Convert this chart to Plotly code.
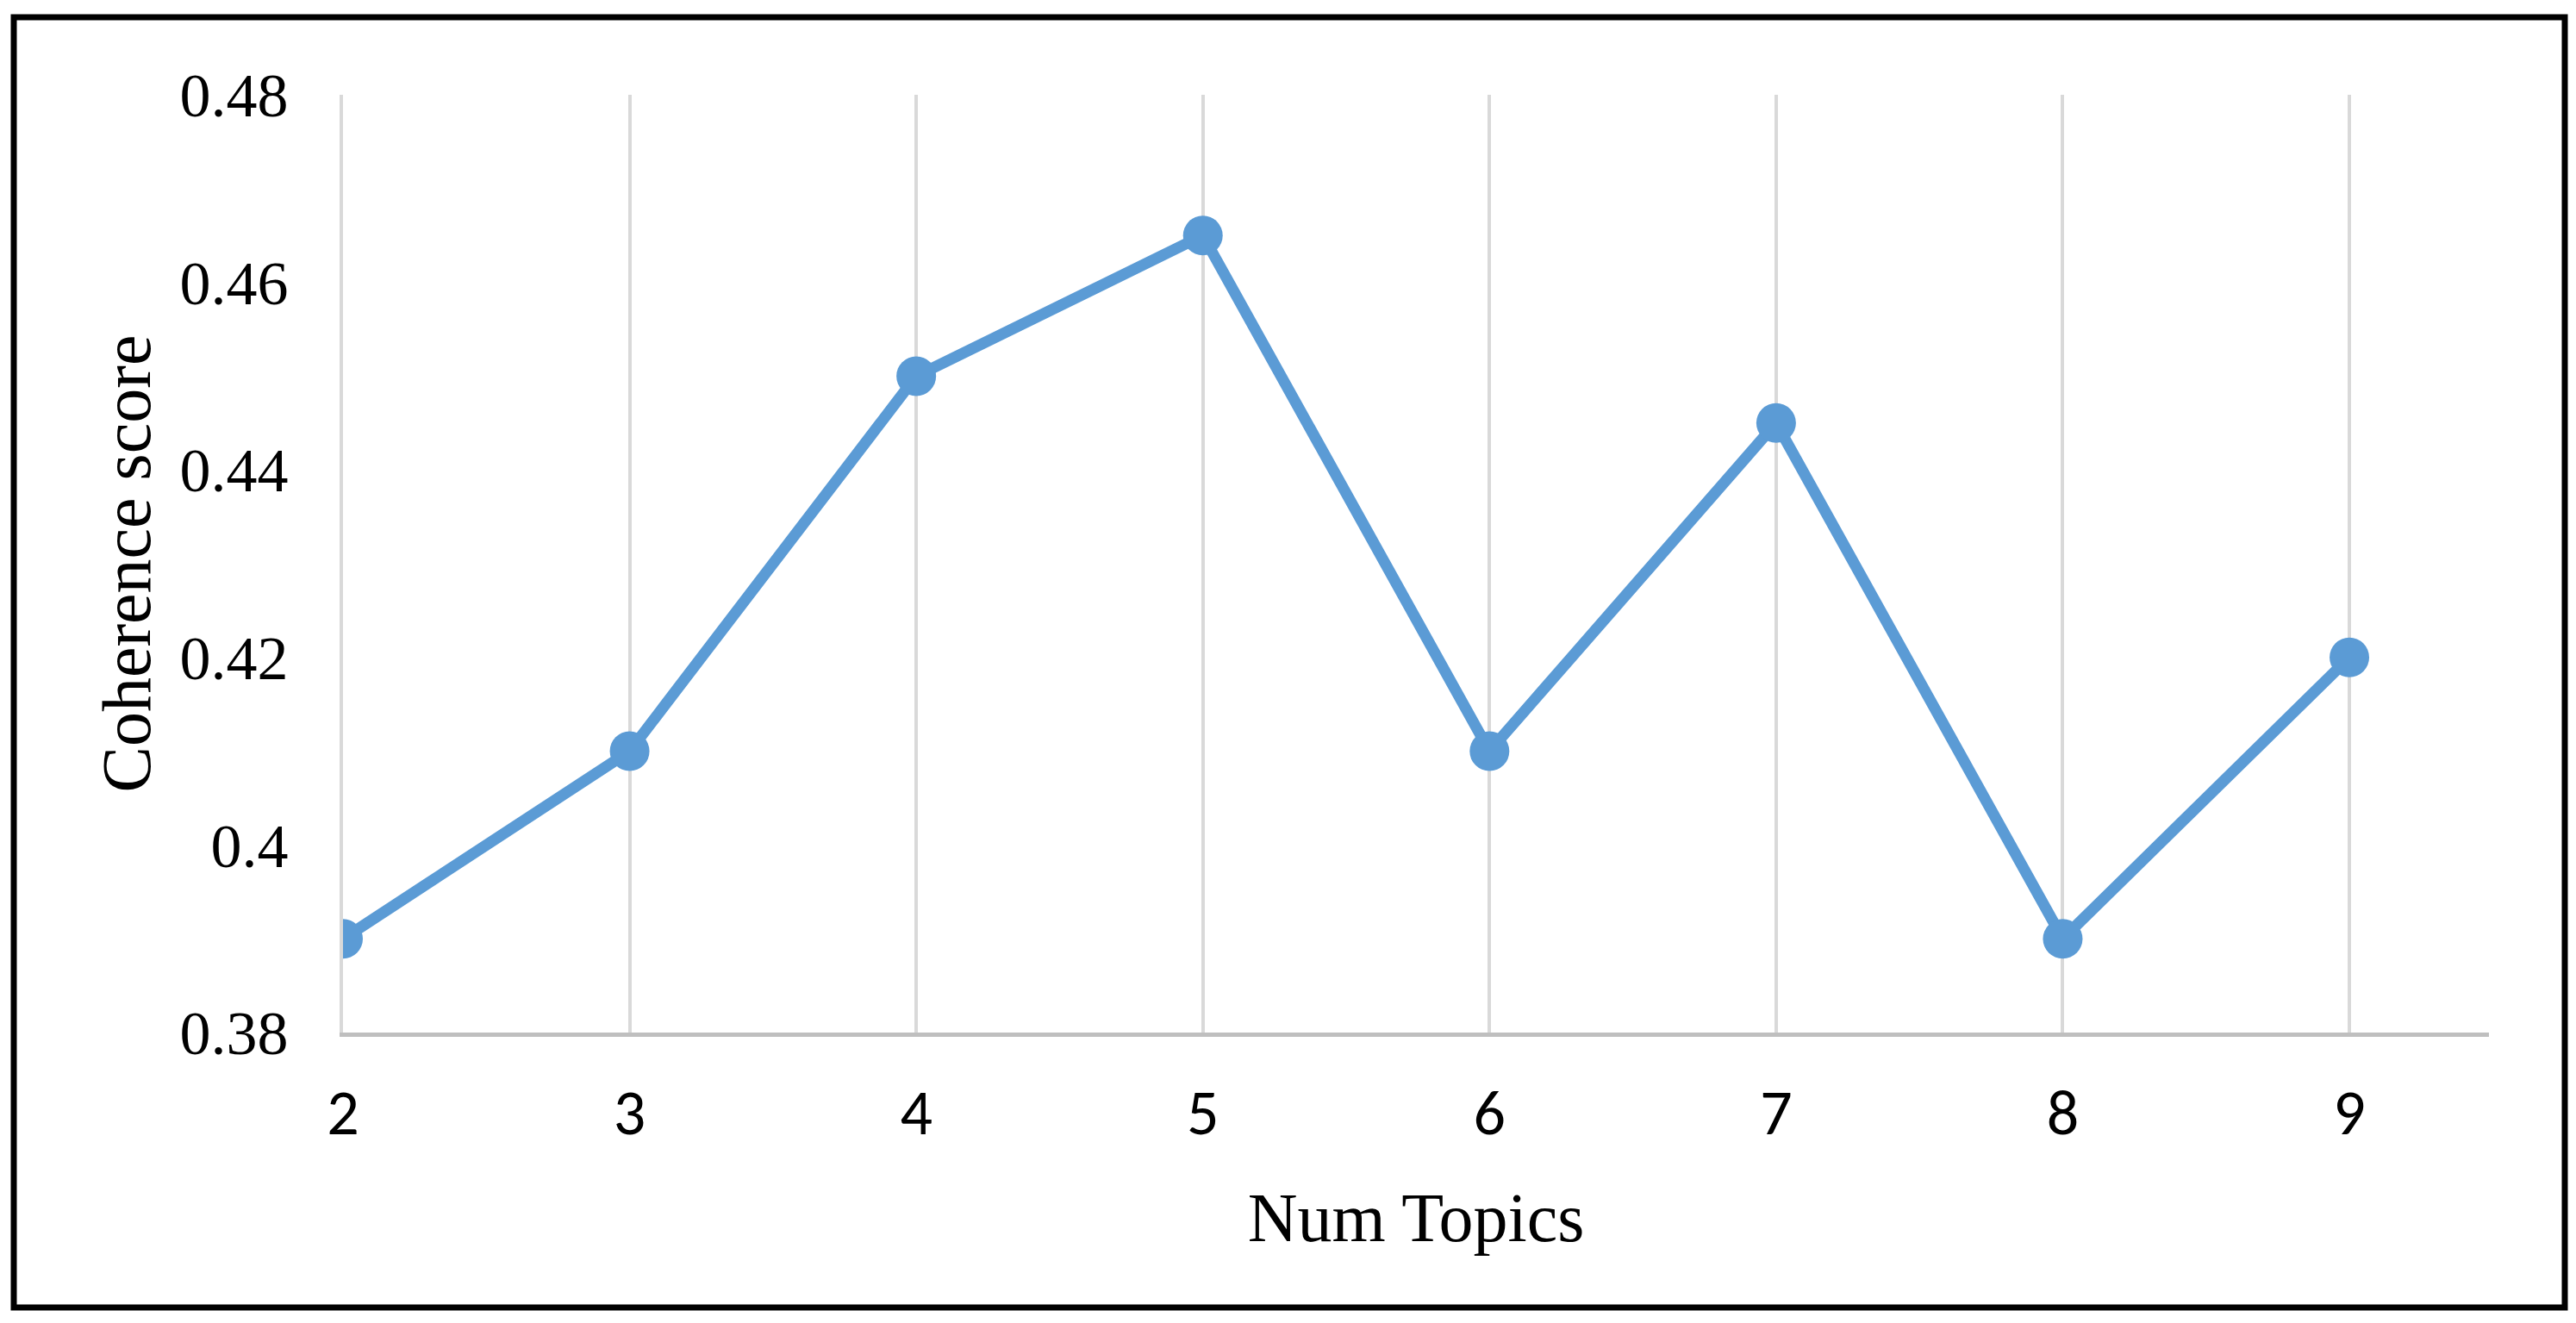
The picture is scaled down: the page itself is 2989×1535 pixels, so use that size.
import plotly.graph_objects as go

num_topics = [2, 3, 4, 5, 6, 7, 8, 9]
coherence = [0.39, 0.41, 0.45, 0.465, 0.41, 0.445, 0.39, 0.42]
y_tick_vals = [0.38, 0.40, 0.42, 0.44, 0.46, 0.48]
y_tick_text = ["0.38", "0.4", "0.42", "0.44", "0.46", "0.48"]
x_title = "Num Topics"
y_title = "Coherence score"

OFF = 8  # default page body margin
W, H = 2989 - OFF, 1535 - OFF
ML, MR, MT, MB = 398 - OFF, 101, 110 - OFF, 337
pw, ph = W - ML - MR, H - MT - MB

fig = go.Figure()
fig.add_trace(go.Scatter(
    x=num_topics, y=coherence, mode="lines+markers",
    line=dict(color="#5B9BD5", width=13),
    marker=dict(color="#5B9BD5", size=46),
    showlegend=False,
))

def px_x(p):
    return (p - OFF - ML) / pw

def px_y(p):
    return 1 - (p - OFF - MT) / ph

fig.add_shape(type="rect", xref="paper", yref="paper",
              x0=px_x(16), x1=px_x(2976), y0=px_y(20), y1=px_y(1517),
              line=dict(color="black", width=7), fillcolor="rgba(0,0,0,0)", layer="above")

fig.update_layout(
    width=W, height=H,
    margin=dict(l=ML, r=MR, t=MT, b=MB, autoexpand=False),
    paper_bgcolor="white", plot_bgcolor="white",
    xaxis=dict(
        range=[2, 9.487], tickvals=num_topics, ticktext=[str(v) for v in num_topics],
        automargin=False,
        showgrid=True, gridcolor="#D9D9D9", gridwidth=4,
        showline=True, linecolor="#BFBFBF", linewidth=5,
        zeroline=False, ticks="",
        tickfont=dict(family="Carlito, Liberation Sans, Arial", size=74, color="black"),
        ticklabelstandoff=24,
        title=dict(text=x_title, font=dict(family="Liberation Serif, Times New Roman", size=80, color="black"),
                   standoff=51),
    ),
    yaxis=dict(
        range=[0.38, 0.48], tickvals=y_tick_vals, ticktext=y_tick_text,
        automargin=False,
        showgrid=False, zeroline=False,
        showline=True, linecolor="#D9D9D9", linewidth=4,
        ticks="",
        tickfont=dict(family="Liberation Serif, Times New Roman", size=72, color="black"),
        ticklabelstandoff=45,
        title=dict(text=y_title, font=dict(family="Liberation Serif, Times New Roman", size=80, color="black"),
                   standoff=9),
    ),
)

fig.write_html("out.html")
